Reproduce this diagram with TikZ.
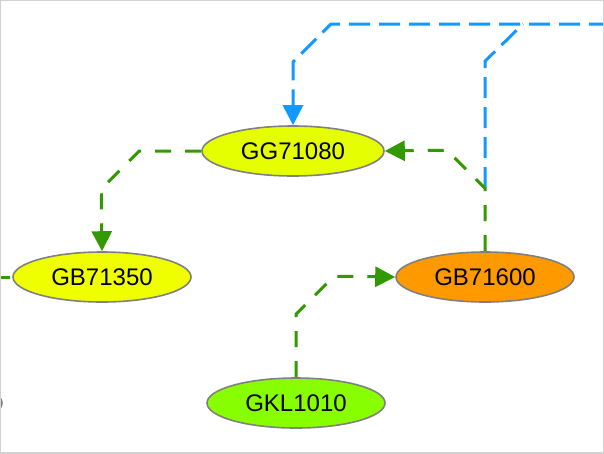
\documentclass[tikz,border=0pt]{standalone}
\usepackage{fontspec}
\setmainfont{Liberation Sans}
\usepackage{tikz}
\usetikzlibrary{positioning,
                arrows.meta,                % arrow tips
                shapes.geometric}           % ellipse nodes

\definecolor{edgegreen}{RGB}{51,153,0}
\definecolor{edgeblue}{RGB}{17,153,255}
\definecolor{ringgray}{RGB}{128,128,128}
\definecolor{framegray}{RGB}{210,210,210}
\definecolor{geneyellow}{RGB}{230,255,0}
\definecolor{geneyellowb}{RGB}{240,255,0}
\definecolor{geneorange}{RGB}{255,153,0}
\definecolor{genegreen}{RGB}{136,255,0}

\tikzset{
    gene/.style={ellipse, draw=ringgray, line width=1.6pt, inner sep=0pt,
                 minimum width=178pt, minimum height=50pt,
                 font=\fontsize{24}{28}\selectfont},
    greenedge/.style={draw=edgegreen, line width=3pt,
                      dash pattern=on 16pt off 14pt},
    blueedge/.style={draw=edgeblue, line width=3pt,
                     dash pattern=on 21pt off 9pt},
    hit/.style={-{Triangle[length=20pt,width=20pt]}}
}

\begin{document}
\begin{tikzpicture}[x=1pt, y=-1pt]
                \useasboundingbox (0,0) rectangle (604,453);
                \begin{scope}
                \clip (0,0) rectangle (604,453);

                \node[gene, fill=geneyellow, minimum width=182pt] (gg71080) at (293,151) {GG71080};
                \node[gene, fill=geneyellowb] (gb71350) at (102,277) {GB71350};
                \node[gene, fill=geneorange] (gb71600) at (485,277) {GB71600};
                \node[gene, fill=genegreen] (gkl1010) at (296,403) {GKL1010};

                % pieces of the graph outside the frame
                \coordinate (offright) at (610,24);
                \coordinate (offleft) at (-6,277);
                \draw[ringgray, line width=1.6pt] (-87,403) ellipse (89 and 25);

                % where the two edges out of GB71600 part, and where the blue ones meet
                \coordinate (fork) at ([yshift=63pt]gb71600.north);
                \coordinate (merge) at (523,24);

                \draw[blueedge] (fork) -- ++(0,-127) -- (merge);
                \draw[blueedge, hit, edgeblue] (offright) -- ([xshift=38pt]gg71080.north |- offright)
                        -- ++(-38,38) -- (gg71080.north);

                \draw[greenedge, hit, edgegreen] (gg71080.west) -- ++(-62,0) -- ++(-38,38) -- (gb71350.north);
                \draw[greenedge, hit, edgegreen] (gb71600.north) -- (fork) -- ++(-38,-38) -- (gg71080.east);
                \draw[greenedge, hit, edgegreen] (gkl1010.north) -- ++(0,-63) -- ++(38,-38) -- (gb71600.west);
                \draw[greenedge] (offleft) -- (gb71350.west);
                \end{scope}

                \draw[framegray, line width=1.5pt] (0,0) rectangle (604,453);
        \end{tikzpicture}
\end{document}
